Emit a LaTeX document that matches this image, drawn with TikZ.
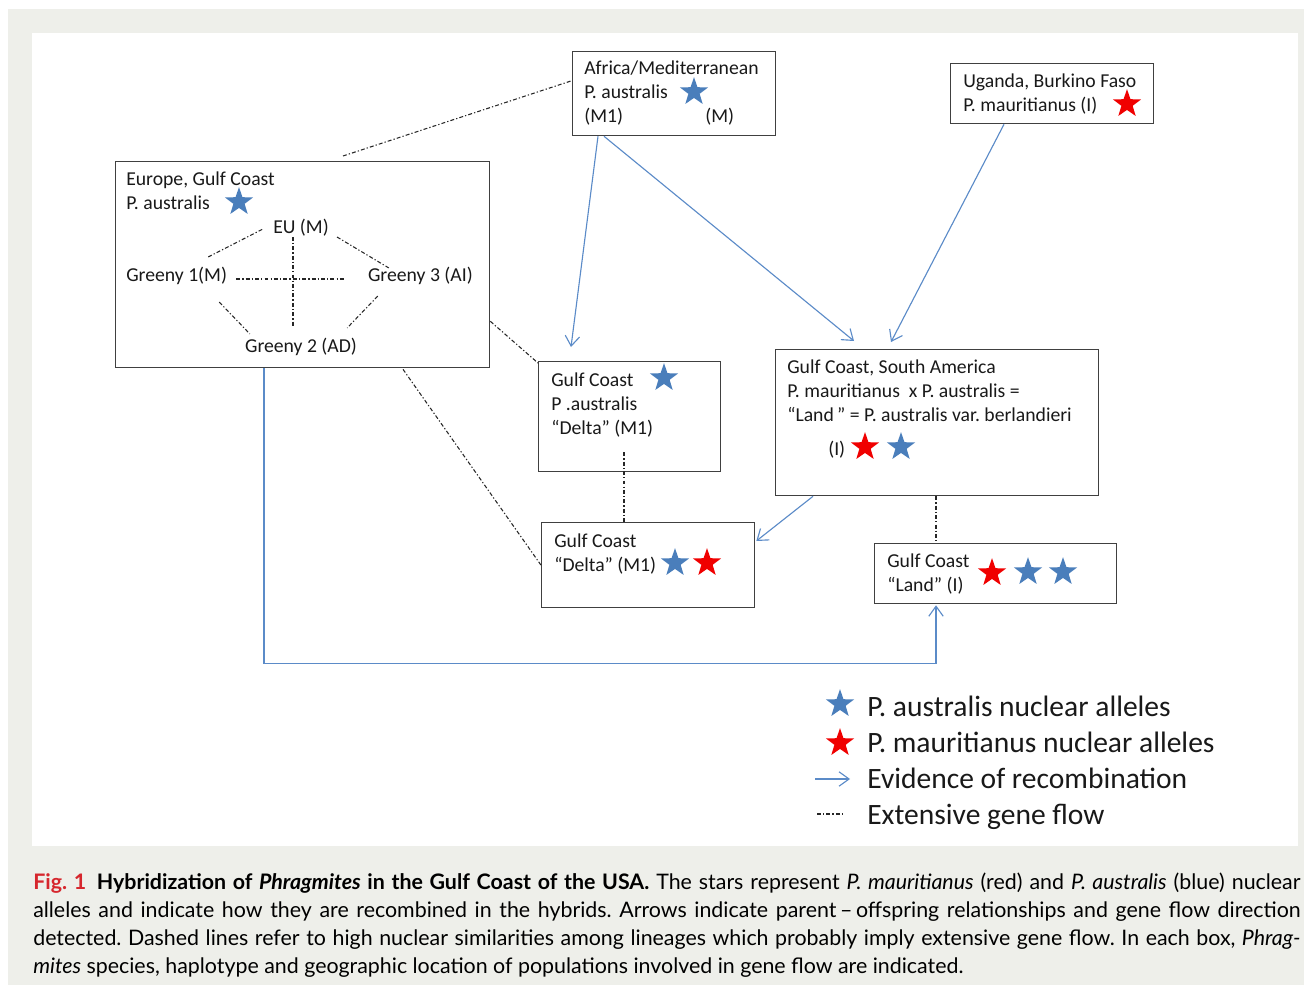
\documentclass[tikz,border=0pt]{standalone}
\usepackage{fontspec}
\setmainfont{Carlito}
\newfontfamily\capfont{Lato}
\usetikzlibrary{shapes.geometric,arrows.meta,calc}
\definecolor{bggray}{RGB}{238,239,234}
\definecolor{boxline}{RGB}{64,64,64}
\definecolor{linkblue}{RGB}{91,139,200}
\definecolor{starblue}{RGB}{74,126,187}
\definecolor{starred}{RGB}{240,0,0}
\definecolor{figred}{RGB}{214,38,45}
\frenchspacing

\begin{document}
\begin{tikzpicture}[x=0.025cm,y=-0.025cm,
  font=\fontsize{14}{17.2}\selectfont,
  box/.style={draw=boxline,line width=0.9pt,anchor=north west,inner sep=0pt},
  txt/.style={anchor=base west,align=left,inner sep=0pt,text=black!90},
  lbl/.style={inner sep=0pt,text=black!90},
  bstar/.style={shape=star,star points=5,star point ratio=2.5,minimum size=0.74cm,inner sep=0pt,fill=starblue},
  rstar/.style={bstar,fill=starred},
  recomb/.style={draw=linkblue,line width=0.8pt,-{Straight Barb[length=2.5mm,width=3.6mm]}},
  gene/.style={draw=black!85,line width=0.75pt,dash pattern=on 2.8pt off 1.5pt on 0.9pt off 1.5pt},
  legtxt/.style={anchor=base west,inner sep=0pt,font=\fontsize{21}{25}\selectfont,text=black!90}]
\useasboundingbox (0,0) rectangle (1312,990);
\fill[bggray] (8,9) rectangle (1304,985);
\fill[white] (32,33) rectangle (1298,846);

% boxes
\node[box,minimum width=5.075cm,minimum height=2.1cm]  (afr) at (572,51)  {};
\node[box,minimum width=5.075cm,minimum height=1.5cm]  (uga) at (950,63)  {};
\node[box,minimum width=9.35cm, minimum height=5.15cm] (eur) at (115,161) {};
\node[box,minimum width=4.55cm, minimum height=2.75cm] (gcd) at (538,361) {};
\node[box,minimum width=8.075cm,minimum height=3.65cm] (gsa) at (775,349) {};
\node[box,minimum width=5.325cm,minimum height=2.125cm](dlt) at (541,522) {};
\node[box,minimum width=6.05cm, minimum height=1.5cm]  (lnd) at (874,543) {};

% box texts (placed at the baseline of their last line)
\node[txt] (afrtxt) at (584,122.4) {Africa/Mediterranean\\P. australis\\\makebox[3.025cm][l]{(M1)}(M)};
\node[txt] (ugatxt) at (963,111.2) {Uganda, Burkino Faso\\P. mauritianus (I)};
\node[txt] (eurtxt) at (126,209.2) {Europe, Gulf Coast\\P. australis};
\node[lbl] (eu) at (301,228) {EU (M)};
\node[lbl,anchor=west] (g1) at (126,276) {Greeny 1(M)};
\node[lbl,anchor=east] (g3) at (473,276) {Greeny 3 (AI)};
\node[lbl] (g2) at (301,347) {Greeny 2 (AD)};
\node[txt] (gcdtxt) at (551,434.4) {Gulf Coast\\P .australis\\“Delta” (M1)};
\node[txt] (gsatxt) at (787,421.4) {Gulf Coast, South America\\P. mauritianus\ \ x P. australis =\\“Land\,” = P. australis var. berlandieri};
\node[txt] (gsai) at (828,455) {(I)};
\node[txt] (dlttxt) at (554,571.2) {Gulf Coast\\“Delta” (M1)};
\node[txt] (lndtxt) at (887,591.2) {Gulf Coast\\“Land” (I)};

% stars
\node[bstar] (afrs)  at (694,92)  {};
\node[rstar] (ugas)  at (1127,104) {};
\node[bstar] (eurs)  at (239,202) {};
\node[bstar] (gcds)  at (664,378) {};
\node[rstar] (gsas1) at (865,447) {};
\node[bstar] (gsas2) at (901,447) {};
\node[bstar] (dlts1) at (675,563) {};
\node[rstar] (dlts2) at (707,563) {};
\node[rstar] (lnds1) at (992,573) {};
\node[bstar] (lnds2) at (1028,572) {};
\node[bstar] (lnds3) at (1063,572) {};

% gene flow inside the Europe box
\draw[gene] ($(g1.north east)+(-19,-10)$) -- ($(eu.west)+(-10,1)$);
\draw[gene] ($(eu.east)+(8,9)$) -- ($(g3.north west)+(21,1)$);
\draw[gene] ($(eu.south)+(-8,0)$) -- ($(g2.north)+(-8,-12)$);
\draw[gene] ($(g1.east)+(9,3)$) -- ($(g3.west)+(-22,3)$);
\draw[gene] ($(g1.south east)+(-8,17)$) -- ($(g2.north west)+(5,-4)$);
\draw[gene] ($(g3.south west)+(10,11)$) -- ($(g2.north east)+(-10,-10)$);

% gene flow between boxes
\draw[gene] ($(eur.north west)+(228,-5)$) -- ($(afr.west)+(0,-13)$);
\draw[gene] ($(eur.south east)+(0,-47)$) -- ($(gcd.north west)+(0,2)$);
\draw[gene] ($(eur.south west)+(288,1)$) -- (dlt.west);
\draw[gene] ($(gcd.south west)+(86,-20)$) -- ($(dlt.north west)+(83,0)$);
\draw[gene] ($(gsa.south west)+(161,0)$) -- ($(lnd.north west)+(62,0)$);

% recombination
\draw[recomb] ($(afr.south west)+(26,0)$) -- ($(gcd.north west)+(33,-14)$);
\draw[recomb] ($(afr.south west)+(32,0)$) -- ($(gsa.north west)+(79,-8)$);
\draw[recomb] ($(uga.south west)+(54,0)$) -- ($(gsa.north west)+(116,-7)$);
\draw[recomb] ($(gsa.south west)+(38,0)$) -- ($(dlt.north east)+(1,19)$);
\draw[recomb] ($(eur.south west)+(149,0)$) -- ++(0,295) -| ($(lnd.south west)+(62,1)$);

% legend
\node[bstar] (legb) at (840,704) {};
\node[legtxt] (legbtxt) at (867,716) {P. australis nuclear alleles};
\node[rstar] (legr) at (840,743) {};
\node[legtxt] (legrtxt) at (867,752) {P. mauritianus nuclear alleles};
\coordinate (legarra) at (815,779);
\coordinate (legarrb) at (850,779);
\draw[recomb] (legarra) -- (legarrb);
\node[legtxt] (legarrtxt) at (867,788) {Evidence of recombination};
\coordinate (legdasha) at (817,814);
\coordinate (legdashb) at (845,814);
\draw[gene] (legdasha) -- (legdashb);
\node[legtxt] (legdashtxt) at (867,824) {Extensive gene flow};

% caption
\node[anchor=base west,align=left,inner sep=0pt,font=\capfont\fontsize{15.2}{19.9}\selectfont] (caption) at (33,973)
 {\makebox[31.675cm][s]{{\bfseries\color{figred}Fig.~1}\enspace{\bfseries Hybridization of \textit{Phragmites} in the Gulf Coast of the USA.} The stars represent \textit{P.~mauritianus} (red) and \textit{P.~australis} (blue) nuclear}\\
  \makebox[31.675cm][s]{alleles and indicate how they are recombined in the hybrids. Arrows indicate parent\,–\,offspring relationships and gene flow direction}\\
  \makebox[31.675cm][s]{detected. Dashed lines refer to high nuclear similarities among lineages which probably imply extensive gene flow. In each box, \textit{Phrag-}}\\
  \textit{mites} species, haplotype and geographic location of populations involved in gene flow are indicated.};
\end{tikzpicture}
\end{document}
